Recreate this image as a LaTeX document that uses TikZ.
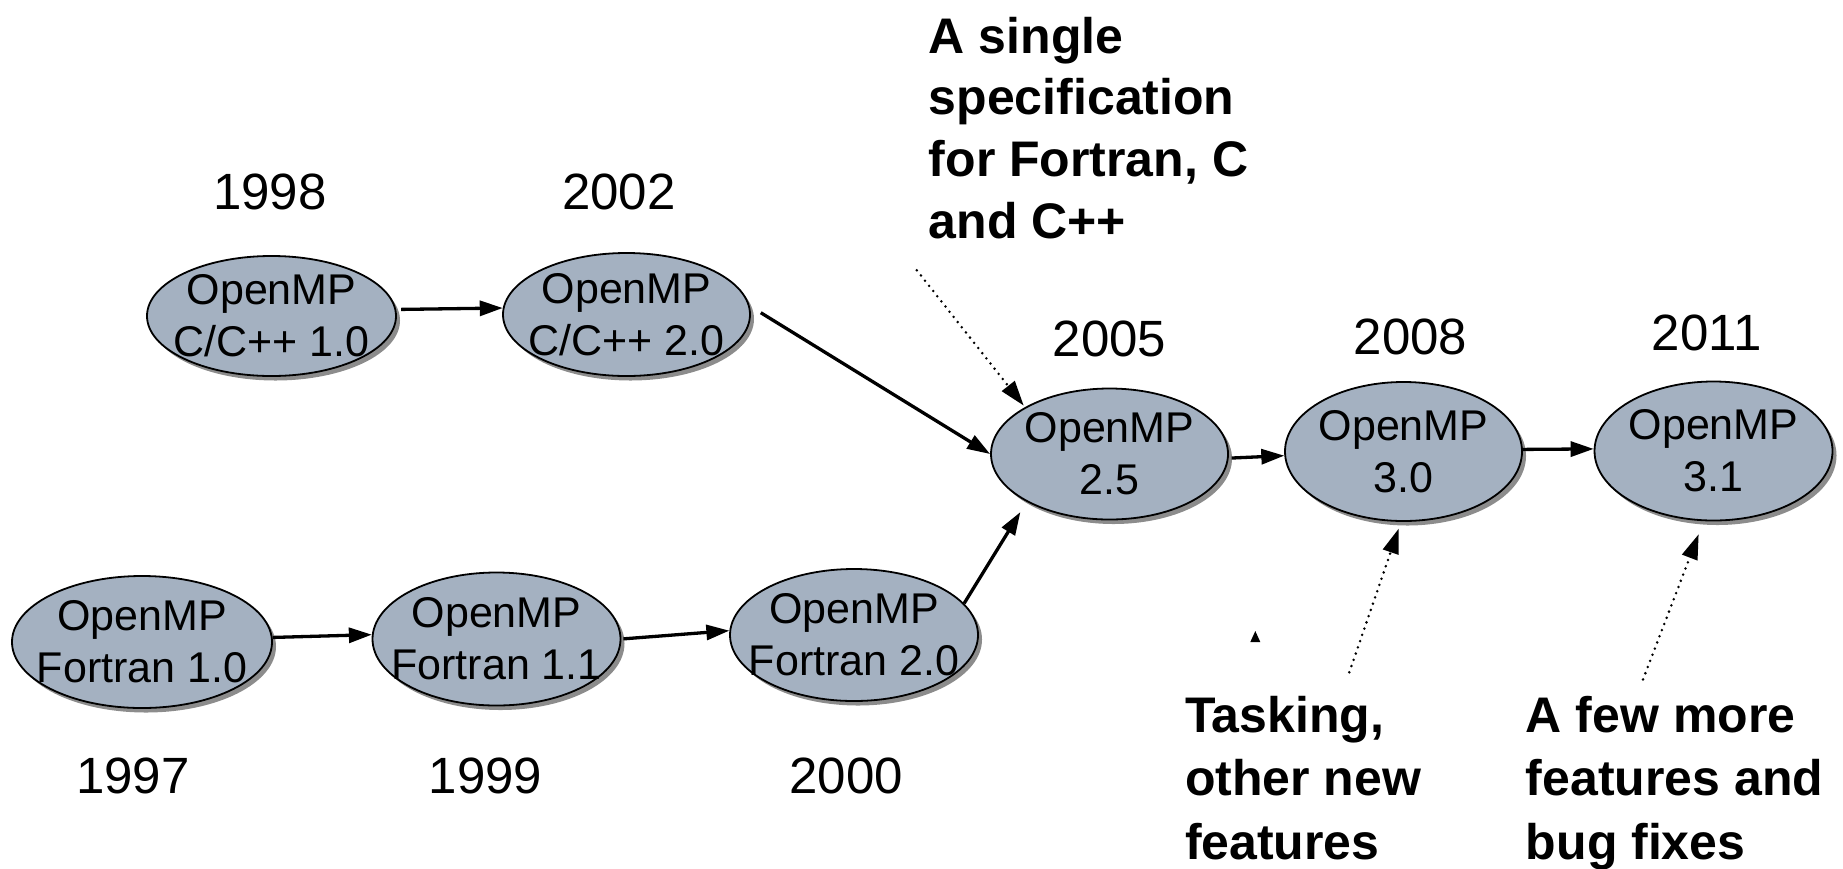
\documentclass[tikz,border=0pt]{standalone}
\usepackage{fontspec}
\setmainfont{Liberation Sans}
\usetikzlibrary{arrows.meta,shapes.geometric,shadows}
\definecolor{verfill}{RGB}{164,177,193}
\begin{document}
\begin{tikzpicture}[x=1pt,y=1pt,
  ver/.style={ellipse, draw=black, line width=1.8pt, fill=verfill, inner sep=0pt,
    drop shadow={shadow xshift=4pt, shadow yshift=-4.5pt, fill=black, opacity=0.45}},
  vtxt/.style={align=center, font=\fontsize{43}{52}\selectfont, inner sep=0pt},
  year/.style={font=\fontsize{51}{60}\selectfont, inner sep=0pt},
  note/.style={font=\fontsize{50}{62}\selectfont\bfseries, inner sep=0pt, anchor=base west},
  flow/.style={line width=3.3pt, -{Triangle[length=23pt,width=15pt]}},
  hint/.style={line width=2.8pt, line cap=round, dash pattern=on 0pt off 6.6pt,
    -{Triangle[length=25pt,width=16pt]}},
]
\useasboundingbox (0,0) rectangle (1843,-868);

% versions
\node[ver, minimum width=249pt, minimum height=120pt] (c10) at (271.5,-316) {};
\node[ver, minimum width=247pt, minimum height=123pt] (c20) at (626.5,-314.5) {};
\node[ver, minimum width=260pt, minimum height=132pt] (f10) at (142,-642) {};
\node[ver, minimum width=248pt, minimum height=133pt] (f11) at (496.5,-639) {};
\node[ver, minimum width=248pt, minimum height=132pt] (f20) at (854,-635) {};
\node[ver, minimum width=237pt, minimum height=131pt] (v25) at (1109.5,-454) {};
\node[ver, minimum width=237pt, minimum height=139pt] (v30) at (1403.5,-451.5) {};
\node[ver, minimum width=238pt, minimum height=139pt] (v31) at (1713.5,-451) {};

\node[vtxt] (c10t) at (c10) {OpenMP\\C/C++ 1.0};
\node[vtxt] (c20t) at (c20) {OpenMP\\C/C++ 2.0};
\node[vtxt] (f10t) at (f10) {OpenMP\\Fortran 1.0};
\node[vtxt] (f11t) at (f11) {OpenMP\\Fortran 1.1};
\node[vtxt] (f20t) at (f20) {OpenMP\\Fortran 2.0};
\node[vtxt] (v25t) at (v25) {OpenMP\\2.5};
\node[vtxt] (v30t) at (v30) {OpenMP\\3.0};
\node[vtxt] (v31t) at (v31) {OpenMP\\3.1};

% years
\node[year] (y1998) at (270,-191.6) {1998};
\node[year] (y2002) at (619,-191.6) {2002};
\node[year] (y1997) at (133,-776) {1997};
\node[year] (y1999) at (485.4,-776) {1999};
\node[year] (y2000) at (846.3,-776) {2000};
\node[year] (y2005) at (1109.6,-338.5) {2005};
\node[year] (y2008) at (1410.5,-337) {2008};
\node[year] (y2011) at (1706.7,-332.6) {2011};

% notes
\node[note] (n1a) at (928.6,-53) {A single};
\node[note] (n1b) at (928.6,-114) {specification};
\node[note] (n1c) at (928.6,-176) {for Fortran, C};
\node[note] (n1d) at (928.6,-238.5) {and C++};
\node[note] (n2a) at (1184.8,-732.3) {Tasking,};
\node[note] (n2b) at (1184.8,-795.7) {other new};
\node[note] (n2c) at (1184.8,-859.2) {features};
\node[note] (n3a) at (1525.7,-732.3) {A few more};
\node[note] (n3b) at (1525.7,-795.7) {features and};
\node[note] (n3c) at (1525.7,-859.2) {bug fixes};

% flow arrows
\draw[flow, shorten <=5pt] (c10.3) -- (c20.177);
\draw[flow, shorten <=13pt] (c20.4) -- (v25.west);
\draw[flow] (f10.2) -- (f11.178);
\draw[flow, shorten <=2pt] (f11.0) -- (f20.178);
\draw[flow, shorten >=12pt] (f20.16) -- (v25.210);
\draw[flow, shorten <=3pt] (v25.358) -- (v30.182);
\draw[flow] (v30.1) -- (v31.179);

% hint arrows
\coordinate (h1) at (916.8,-270.3);
\coordinate (h2) at (1349.3,-672.3);
\coordinate (h3) at (1643,-679.4);
\draw[hint, shorten >=2pt] (h1) -- (v25.151);
\draw[hint, shorten >=7pt] (h2) -- (v30.268);
\draw[hint, shorten >=14pt] (h3) -- (v31.262);

% stray arrow tip
\coordinate (s1) at (1255.3,-637);
\fill (s1) ++(-5,-5) -- ++(5,11) -- ++(5,-11) -- cycle;
\end{tikzpicture}
\end{document}
